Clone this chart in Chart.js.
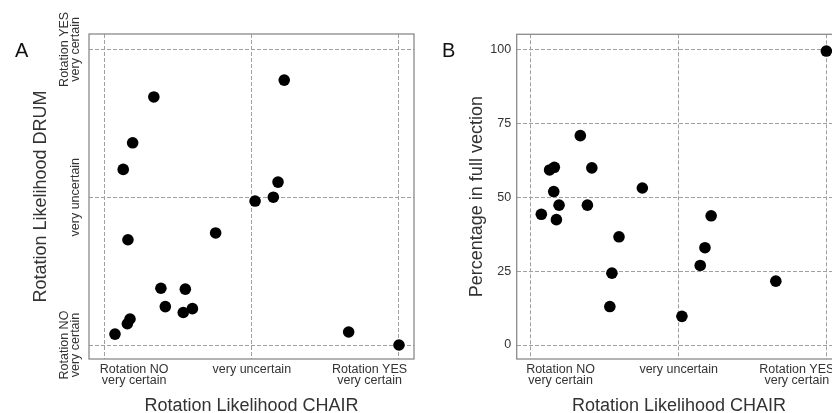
<!DOCTYPE html>
<html>
<head>
<meta charset="utf-8">
<script src="https://cdn.jsdelivr.net/npm/chart.js@4.4.1/dist/chart.umd.min.js"></script>
<style>
    html, body { margin: 0; padding: 0; background: #fff; }
    body { width: 832px; height: 413px; overflow: hidden; position: relative; font-family: 'Liberation Sans', Arial, sans-serif; }
    .panel { position: absolute; top: 0; }
    .panel canvas { display: block; }
    #panel-a { left: 0; }
    #panel-b { left: 420px; }
    .letter { position: absolute; font-size: 20px; line-height: 20px; color: #111; }
</style>
</head>
<body>
<div class="panel" id="panel-a"><canvas id="chart-a" width="420" height="413"></canvas></div>
<div class="panel" id="panel-b"><canvas id="chart-b" width="430" height="413"></canvas></div>
<div class="letter" style="left:15px; top:40px;">A</div>
<div class="letter" style="left:442px; top:40px;">B</div>
<script>
// one entry per participant
const chair   = [3.5, 6.3, 7.7, 7.9, 8.6, 9.5, 16.7, 19.1, 20.6, 26.7, 27.4, 29.8, 37.7, 51.1, 57.3, 58.9, 61.0, 82.9, 100];
const drum    = [3.7, 59.4, 7.2, 35.6, 8.8, 68.4, 83.9, 19.2, 13.0, 11.0, 18.9, 12.3, 37.9, 48.7, 50.0, 55.1, 89.6, 4.4, 0];
const vection = [44.2, 59.2, 51.9, 60.1, 42.4, 47.3, 70.8, 47.3, 59.9, 13.0, 24.3, 36.6, 53.1, 9.7, 26.9, 32.9, 43.7, 21.6, 99.4];

const chairGrid   = [0, 50, 100];
const chairTicks  = [10, 50, 90];
const chairLabels = [['Rotation NO', 'very certain'], ['very uncertain'], ['Rotation YES', 'very certain']];
const drumTicks   = [0, 50, 100];
const drumLabels  = [['Rotation NO', 'very certain'], ['', 'very uncertain'], ['Rotation YES', 'very certain']];
const vectionTicks = [0, 25, 50, 75, 100];

const FONT = "'Liberation Sans', Arial, sans-serif";
const TEXT = '#333333';
const GRID = '#a0a0a0';
const FRAME = '#8a8a8a';

const tickFont  = { family: FONT, size: 12.5, lineHeight: 0.9 };
const titleFont = { family: FONT, size: 18, lineHeight: 1 };

function points(ys) {
    return chair.map((x, i) => ({ x: x, y: ys[i] }));
}

const framePlugin = {
    id: 'frame',
    beforeDatasetsDraw(chart) {
        const { ctx, chartArea: a } = chart;
        ctx.save();
        ctx.strokeStyle = FRAME;
        ctx.lineWidth = 1.3;
        ctx.strokeRect(a.left, a.top, a.right - a.left, a.bottom - a.top);
        ctx.restore();
    }
};

function chairAxis(min, max) {
    return {
        type: 'linear',
        min: min,
        max: max,
        afterBuildTicks: s => {
            s.ticks = [...new Set([...chairGrid, ...chairTicks])].sort((a, b) => a - b).map(v => ({ value: v }));
        },
        afterFit: s => { s.height = 54; s.paddingLeft = 0; s.paddingRight = 0; },
        grid: {
            drawTicks: false,
            color: GRID,
            lineWidth: c => (c.tick && chairGrid.includes(c.tick.value)) ? 1 : 0,
        },
        border: { display: false, dash: [4, 2] },
        ticks: {
            autoSkip: false, minRotation: 0, maxRotation: 0,
            padding: 5, color: TEXT, font: tickFont,
            callback: v => {
                const i = chairTicks.indexOf(v);
                return i < 0 ? '' : chairLabels[i];
            },
        },
        title: {
            display: true, text: 'Rotation Likelihood CHAIR', color: TEXT,
            font: titleFont, padding: { top: 0, bottom: -2 },
        },
    };
}

function scatterDataset(ys) {
    return {
        data: points(ys),
        backgroundColor: '#000',
        borderColor: '#000',
        borderWidth: 0,
        pointRadius: 5.8,
        pointHoverRadius: 5.8,
    };
}

const common = {
    responsive: false,
    animation: false,
    events: [],
    plugins: { legend: { display: false }, tooltip: { enabled: false } },
};

new Chart(document.getElementById('chart-a'), {
    type: 'scatter',
    data: { datasets: [scatterDataset(drum)] },
    plugins: [framePlugin],
    options: {
        ...common,
        layout: { autoPadding: false, padding: { top: 34, right: 6, left: 0, bottom: 0 } },
        scales: {
            x: chairAxis(-5.33, 105.1),
            y: {
                type: 'linear',
                min: -4.73,
                max: 105.2,
                afterBuildTicks: s => { s.ticks = drumTicks.map(v => ({ value: v })); },
                afterFit: s => { s.width = 89; s.paddingTop = 0; s.paddingBottom = 0; },
                grid: { drawTicks: false, color: GRID, lineWidth: 1 },
                border: { display: false, dash: [4, 2] },
                ticks: {
                    autoSkip: false, minRotation: 90, maxRotation: 90, crossAlign: 'center',
                    padding: -20.5, color: TEXT, font: tickFont,
                    callback: v => drumLabels[drumTicks.indexOf(v)],
                },
                title: {
                    display: true, text: 'Rotation Likelihood DRUM', color: TEXT,
                    font: titleFont, padding: { top: 32.5, bottom: 0 },
                },
            },
        },
    },
});

new Chart(document.getElementById('chart-b'), {
    type: 'scatter',
    data: { datasets: [scatterDataset(vection)] },
    plugins: [framePlugin],
    options: {
        ...common,
        layout: { autoPadding: false, padding: { top: 34.3, right: 8.6, left: 0, bottom: 0 } },
        scales: {
            x: chairAxis(-4.84, 105.1),
            y: {
                type: 'linear',
                min: -4.73,
                max: 105.07,
                afterBuildTicks: s => { s.ticks = vectionTicks.map(v => ({ value: v })); },
                afterFit: s => { s.width = 96.7; s.paddingTop = 0; s.paddingBottom = 0; },
                grid: { drawTicks: false, color: GRID, lineWidth: 1 },
                border: { display: false, dash: [4, 2] },
                ticks: {
                    autoSkip: false, padding: 5.5, color: TEXT, font: tickFont,
                    callback: v => String(v),
                },
                title: {
                    display: true, text: 'Percentage in full vection', color: TEXT,
                    font: titleFont, padding: { top: 48, bottom: 0 },
                },
            },
        },
    },
});
</script>
</body>
</html>
